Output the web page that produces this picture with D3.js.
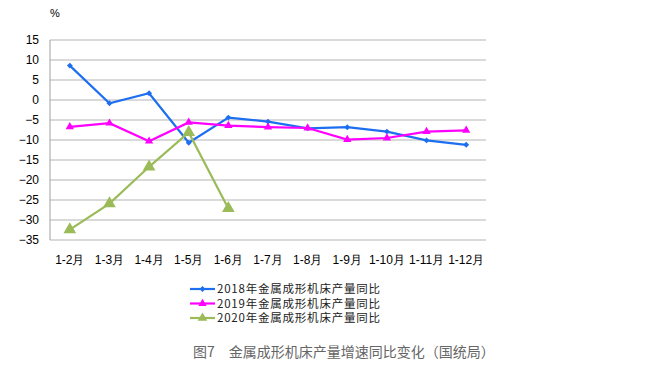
<!DOCTYPE html>
<html><head><meta charset="utf-8">
<script src="https://cdn.jsdelivr.net/npm/d3@7"></script>
<style>body{margin:0;background:#fff}svg{display:block}</style>
</head><body>
<script>
const categories = ["1-2月","1-3月","1-4月","1-5月","1-6月","1-7月","1-8月","1-9月","1-10月","1-11月","1-12月"];
const series2018 = [8.6,-0.8,1.7,-10.7,-4.4,-5.4,-7.1,-6.8,-7.9,-10.1,-11.2];
const series2019 = [-6.7,-5.8,-10.3,-5.6,-6.4,-6.8,-7.0,-9.9,-9.5,-7.9,-7.6];
const series2020 = [-32.4,-25.9,-16.7,-8.1,-27.1];
const yTicks = [15,10,5,0,-5,-10,-15,-20,-25,-30,-35];
const seriesNames = ["2018年金属成形机床产量同比","2019年金属成形机床产量同比","2020年金属成形机床产量同比"];
const caption = "图7　金属成形机床产量增速同比变化（国统局）";

const W=649,H=382;
const svg=d3.select("body").append("svg").attr("width",W).attr("height",H);
const pL=50,pR=486,pT=40,pB=240;
const x=d3.scaleBand().domain(categories).range([pL,pR]);
const y=d3.scaleLinear().domain([-35,15]).range([pB,pT]);
const font="'Liberation Sans', Arial, sans-serif";

// gridlines
svg.append("g").selectAll("line").data(yTicks).join("line")
  .attr("x1",pL).attr("x2",pR).attr("y1",d=>y(d)).attr("y2",d=>y(d))
  .attr("stroke","#b4b4b4").attr("stroke-width",1);
svg.append("line").attr("x1",pL).attr("x2",pL).attr("y1",pT).attr("y2",pB)
  .attr("stroke","#a0a0a0");

// y axis
const ya=svg.append("g").attr("transform",`translate(${pL},0)`)
  .call(d3.axisLeft(y).tickValues(yTicks).tickSize(0).tickPadding(11));
ya.select(".domain").remove();
ya.selectAll("text").attr("font-family",font).attr("font-size",12).attr("fill","#000");

// x axis
const xa=svg.append("g").attr("transform",`translate(0,${pB})`)
  .call(d3.axisBottom(x).tickSize(0).tickPadding(15));
xa.select(".domain").remove();
xa.selectAll("text").attr("font-family",font).attr("font-size",12).attr("fill","#000");

svg.append("text").attr("x",50).attr("y",17).text("%")
  .attr("font-family",font).attr("font-size",11).attr("fill","#000");

const cx=i=>x(categories[i])+x.bandwidth()/2;
const line=d3.line().x((d,i)=>cx(i)).y(d=>y(d));
const defs=[
  {data:series2018,color:"#1e6ff0",marker:"diamond",size:22},
  {data:series2019,color:"#ff00ff",marker:"tri",size:30},
  {data:series2020,color:"#9bbb59",marker:"tri",size:70}
];
defs.forEach(s=>{
  svg.append("path").datum(s.data).attr("d",line).attr("fill","none")
    .attr("stroke",s.color).attr("stroke-width",2.2);
  const sym=d3.symbol().type(s.marker==="diamond"?d3.symbolDiamond2:d3.symbolTriangle).size(s.size);
  svg.append("g").selectAll("path").data(s.data).join("path")
    .attr("d",sym).attr("transform",(d,i)=>`translate(${cx(i)},${y(d)})`)
    .attr("fill",s.color);
});

// legend
const legY=[289,303.5,318];
defs.forEach((s,i)=>{
  const g=svg.append("g").attr("transform",`translate(190,${legY[i]})`);
  g.append("line").attr("x1",0).attr("x2",25).attr("stroke",s.color).attr("stroke-width",2.2);
  const sym=d3.symbol().type(s.marker==="diamond"?d3.symbolDiamond2:d3.symbolTriangle).size(s.marker==="diamond"?22:(i===1?30:40));
  g.append("path").attr("d",sym).attr("transform","translate(12.5,0)").attr("fill",s.color);
  g.append("text").attr("x",27).attr("y",0).attr("dy","0.35em").text(seriesNames[i])
    .attr("font-family","'Noto Sans CJK SC', sans-serif").attr("font-size",11.5)
    .attr("textLength",163).attr("lengthAdjust","spacing").attr("fill","#222");
});

svg.append("text").attr("x",193).attr("y",357).text(caption)
  .attr("font-family","'Noto Sans CJK SC', sans-serif").attr("font-size",14).attr("fill","#666");
</script>
</body></html>
